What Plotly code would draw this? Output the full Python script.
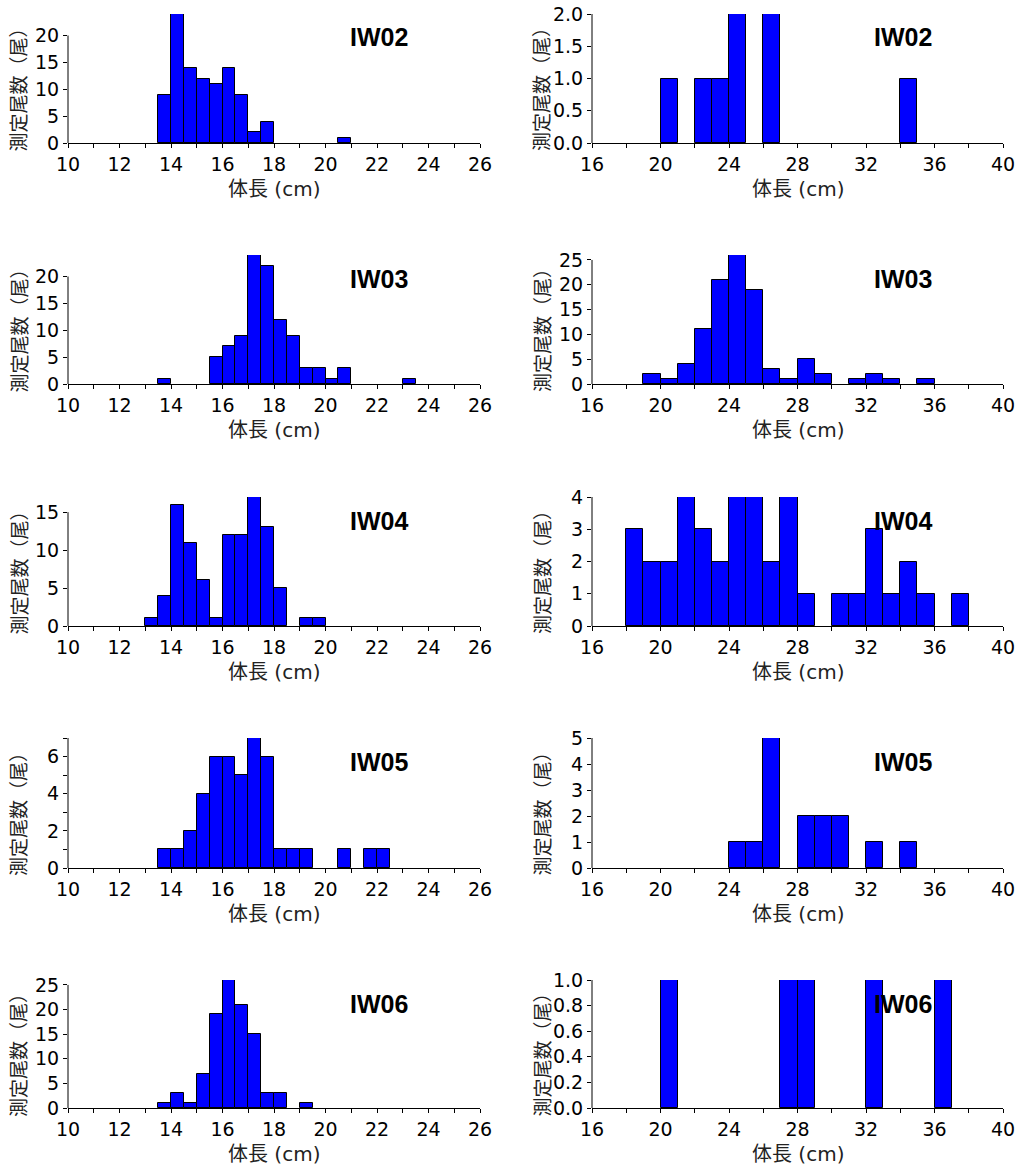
import numpy as np
import plotly.graph_objects as go

sites = ["IW02", "IW03", "IW04", "IW05", "IW06"]

# Left column: 0.5 cm length classes (bin left edge) and counts
iw02_s_len = [13.5, 14.0, 14.5, 15.0, 15.5, 16.0, 16.5, 17.0, 17.5, 20.5]
iw02_s_n = [9, 24, 14, 12, 11, 14, 9, 2, 4, 1]
iw03_s_len = [13.5, 15.5, 16.0, 16.5, 17.0, 17.5, 18.0, 18.5, 19.0, 19.5, 20.0, 20.5, 23.0]
iw03_s_n = [1, 5, 7, 9, 24, 22, 12, 9, 3, 3, 1, 3, 1]
iw04_s_len = [13.0, 13.5, 14.0, 14.5, 15.0, 15.5, 16.0, 16.5, 17.0, 17.5, 18.0, 19.0, 19.5]
iw04_s_n = [1, 4, 16, 11, 6, 1, 12, 12, 17, 13, 5, 1, 1]
iw05_s_len = [13.5, 14.0, 14.5, 15.0, 15.5, 16.0, 16.5, 17.0, 17.5, 18.0, 18.5, 19.0, 20.5, 21.5, 22.0]
iw05_s_n = [1, 1, 2, 4, 6, 6, 5, 7, 6, 1, 1, 1, 1, 1, 1]
iw06_s_len = [13.5, 14.0, 14.5, 15.0, 15.5, 16.0, 16.5, 17.0, 17.5, 18.0, 19.0]
iw06_s_n = [1, 3, 1, 7, 19, 26, 21, 15, 3, 3, 1]

# Right column: 1 cm length classes (bin left edge) and counts
iw02_l_len = [20, 22, 23, 24, 26, 34]
iw02_l_n = [1, 1, 1, 2, 2, 1]
iw03_l_len = [19, 20, 21, 22, 23, 24, 25, 26, 27, 28, 29, 31, 32, 33, 35]
iw03_l_n = [2, 1, 4, 11, 21, 26, 19, 3, 1, 5, 2, 1, 2, 1, 1]
iw04_l_len = [18, 19, 20, 21, 22, 23, 24, 25, 26, 27, 28, 30, 31, 32, 33, 34, 35, 37]
iw04_l_n = [3, 2, 2, 4, 3, 2, 4, 4, 2, 4, 1, 1, 1, 3, 1, 2, 1, 1]
iw05_l_len = [24, 25, 26, 28, 29, 30, 32, 34]
iw05_l_n = [1, 1, 5, 2, 2, 2, 1, 1]
iw06_l_len = [20, 27, 28, 32, 36]
iw06_l_n = [1, 1, 1, 1, 1]

small_len = [iw02_s_len, iw03_s_len, iw04_s_len, iw05_s_len, iw06_s_len]
small_n = [iw02_s_n, iw03_s_n, iw04_s_n, iw05_s_n, iw06_s_n]
large_len = [iw02_l_len, iw03_l_len, iw04_l_len, iw05_l_len, iw06_l_len]
large_n = [iw02_l_n, iw03_l_n, iw04_l_n, iw05_l_n, iw06_l_n]

# y-axis settings (range max, axis-line top, tick step, minor step, format)
left_ymax = [24, 24, 17, 7, 26]
left_ytop = [20, 20, 15, 7, 25]
left_dtick = [5, 5, 5, 2, 5]
left_minor = [None, None, None, 1, None]
right_ymax = [2, 26, 4, 5, 1]
right_ytop = [2, 25, 4, 5, 1]
right_dtick = [0.5, 5, 1, 1, 0.2]
right_fmt = [".1f", "", "", "", ".1f"]

FW, FH = 1017, 1167


def px_x(p):
    return p / FW


def px_y(p):
    return 1 - p / FH


left_dom = [px_x(68), px_x(480)]
right_dom = [px_x(592), px_x(1003)]
row_px = [(14, 143), (255, 384), (497, 626), (738, 868), (980, 1108)]

TICK_FONT = dict(family="DejaVu Sans", size=19, color="black")
CJK = "Noto Sans CJK JP"
BLUE = "#0000FF"

fig = go.Figure()
layout = {}
shapes = []
annotations = []


def axname(n, a):
    return a if n == 1 else f"{a}{n}"


for i, site in enumerate(sites):
    top_px, bot_px = row_px[i]
    ydom = [px_y(bot_px), px_y(top_px)]
    hpx = bot_px - top_px
    for side in (0, 1):
        n = 2 * i + side + 1
        xa, ya = axname(n, "xaxis"), axname(n, "yaxis")
        xr, yr = axname(n, "x"), axname(n, "y")
        if side == 0:
            lens, cnts, bw = small_len[i], small_n[i], 0.5
            xrange, xdt, xminor = [10, 26], 2, 1
            ymax, ytop, ydt, yminor, yfmt = left_ymax[i], left_ytop[i], left_dtick[i], left_minor[i], ""
            dom = left_dom
            lab_x = px_x(378.5)
            ytitle_x = px_x(17.5)
        else:
            lens, cnts, bw = large_len[i], large_n[i], 1
            xrange, xdt, xminor = [16, 40], 4, 2
            ymax, ytop, ydt, yminor, yfmt = right_ymax[i], right_ytop[i], right_dtick[i], None, right_fmt[i]
            dom = right_dom
            lab_x = px_x(902.5)
            ytitle_x = px_x(541)
        centers = [v + bw / 2 for v in lens]
        fig.add_trace(go.Bar(
            x=centers, y=cnts, width=[bw] * len(cnts),
            xaxis=xr, yaxis=yr,
            marker=dict(color=BLUE, line=dict(color="black", width=1)),
            showlegend=False, hoverinfo="x+y",
        ))
        layout[xa] = dict(
            domain=dom, anchor=yr, range=xrange, dtick=xdt, tick0=xrange[0],
            showline=True, linecolor="black", linewidth=1,
            ticks="outside", ticklen=4, tickcolor="black",
            minor=dict(dtick=xminor, ticks="outside", ticklen=4, tickcolor="black"),
            showgrid=False, zeroline=False, tickfont=TICK_FONT,
            fixedrange=True, automargin=False,
        )
        ycfg = dict(
            domain=ydom, anchor=xr, range=[0, ymax], dtick=ydt, tick0=0,
            showline=False, ticks="outside", ticklen=4, tickcolor="black",
            showgrid=False, zeroline=False, tickfont=TICK_FONT,
            fixedrange=True, automargin=False,
        )
        if yfmt:
            ycfg["tickformat"] = yfmt
        if yminor:
            ycfg["minor"] = dict(dtick=yminor, ticks="outside", ticklen=4, tickcolor="black")
        layout[ya] = ycfg
        # y-axis line up to the top labelled tick
        shapes.append(dict(type="line", xref=f"{xr} domain", yref=yr,
                           x0=0, x1=0, y0=0, y1=ytop,
                           line=dict(color="black", width=1)))
        # site label
        annotations.append(dict(text="<b>" + site + "</b>", xref="paper", yref=f"{yr} domain",
                                x=lab_x, y=1 - 23.5 / hpx, xanchor="center", yanchor="middle",
                                showarrow=False,
                                font=dict(family="Liberation Sans", size=25, color="black")))
        # x title
        annotations.append(dict(text="体長 (cm)", xref=f"{xr} domain", yref=f"{yr} domain",
                                x=0.5, y=-46 / hpx, xanchor="center", yanchor="middle",
                                showarrow=False,
                                font=dict(family="DejaVu Sans, " + CJK, size=20, color="#222")))
        # y title
        annotations.append(dict(text="測定尾数（尾）", xref="paper", yref=f"{yr} domain",
                                x=ytitle_x, y=0.5 - 6.5 / hpx, xanchor="center", yanchor="middle",
                                textangle=-90, showarrow=False,
                                font=dict(family=CJK, size=19, color="#222")))

fig.update_layout(
    **layout,
    shapes=shapes,
    annotations=annotations,
    width=FW, height=FH,
    margin=dict(l=0, r=0, t=0, b=0),
    paper_bgcolor="white", plot_bgcolor="white",
    bargap=0, showlegend=False,
)

# remove the default 8px page margin so the figure fills the window exactly
fig.write_html("out.html", config={"displayModeBar": False},
               post_script="document.body.style.margin='0';")
